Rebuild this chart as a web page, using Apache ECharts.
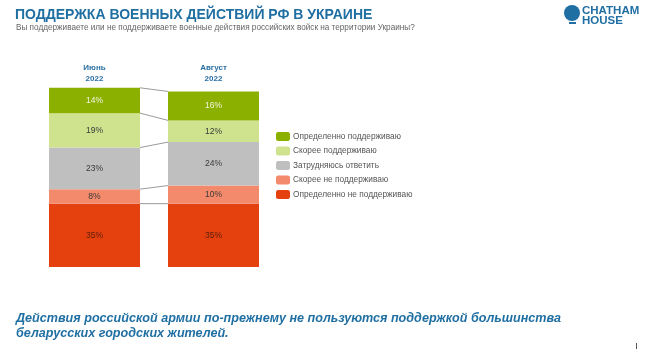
<!DOCTYPE html>
<html>
<head>
<meta charset="utf-8">
<script src="https://cdn.jsdelivr.net/npm/echarts@6/dist/echarts.min.js"></script>
<style>
html,body{margin:0;padding:0;background:#fff;}
#chart{width:662px;height:351px;}
</style>
</head>
<body>
<div id="chart"></div>
<script>
var periods = ['Июнь\n2022', 'Август\n2022'];
// снизу вверх
var seriesNames = ['Определенно не поддерживаю', 'Скорее не поддерживаю', 'Затрудняюсь ответить', 'Скорее поддерживаю', 'Определенно поддерживаю'];
var defNo = [35, 35];
var ratherNo = [8, 10];
var hard = [23, 24];
var ratherYes = [19, 12];
var defYes = [14, 16];
var colors = ['#e5410f', '#f38a6b', '#bfbfbf', '#cfe28e', '#8cb000'];
var labelColors = ['#5a1e0a', '#3a3a3a', '#3a3a3a', '#3a3a3a', '#f2f5df'];

var allValues = [defNo, ratherNo, hard, ratherYes, defYes];
var barW = 91;

var chart = echarts.init(document.getElementById('chart'));

var series = allValues.map(function (vals, i) {
    return {
        name: seriesNames[i],
        type: 'bar',
        stack: 'total',
        barWidth: barW,
        data: vals,
        itemStyle: {color: colors[i]},
        label: {
            show: true,
            formatter: '{c}%',
            color: labelColors[i],
            fontSize: 8.5,
            fontFamily: 'Arial, Liberation Sans, sans-serif'
        }
    };
});

// линии между столбцами на границах сегментов
var bounds = [];
var cumJ = 0, cumA = 0;
for (var k = 0; k < allValues.length; k++) {
    cumJ += allValues[k][0];
    cumA += allValues[k][1];
    bounds.push([cumJ, cumA]);
}

series.push({
    type: 'custom',
    name: 'connectors',
    silent: true,
    z: 1,
    data: bounds,
    renderItem: function (params, api) {
        var p1 = api.coord([0, api.value(0)]);
        var p2 = api.coord([1, api.value(1)]);
        return {
            type: 'line',
            shape: {x1: p1[0] + barW / 2, y1: p1[1], x2: p2[0] - barW / 2, y2: p2[1]},
            style: {stroke: '#808080', lineWidth: 0.8}
        };
    },
    encode: {x: -1, y: [0, 1]}
});

var option = {
    backgroundColor: '#fff',
    animation: false,
    title: [{
        text: 'ПОДДЕРЖКА ВОЕННЫХ ДЕЙСТВИЙ РФ В УКРАИНЕ',
        left: 10, top: 3,
        textStyle: {color: '#1f6fa3', fontSize: 14, fontWeight: 'bold', fontFamily: 'Arial, Liberation Sans, sans-serif'}
    }, {
        text: 'Вы поддерживаете или не поддерживаете военные действия российских войск на территории Украины?',
        left: 11, top: 19,
        textStyle: {color: '#666', fontSize: 8.2, fontWeight: 'normal', fontFamily: 'Arial, Liberation Sans, sans-serif'}
    }, {
        text: 'Действия российской армии по-прежнему не пользуются поддержкой большинства\nбеларусских городских жителей.',
        left: 11, top: 306,
        textStyle: {color: '#1f6fa3', fontSize: 12.6, fontStyle: 'italic', fontWeight: 'bold', lineHeight: 15, fontFamily: 'Arial, Liberation Sans, sans-serif'}
    }],
    legend: {
        orient: 'vertical',
        left: 271, top: 127,
        itemWidth: 14, itemHeight: 9, itemGap: 5.5,
        data: seriesNames.slice().reverse(),
        selectedMode: false,
        textStyle: {color: '#555', fontSize: 8.3, fontFamily: 'Arial, Liberation Sans, sans-serif', padding: [0, 0, 0, -2]}
    },
    grid: {left: 35, width: 238, top: 86, bottom: 84},
    xAxis: {
        type: 'category',
        position: 'top',
        data: periods,
        axisLine: {show: false},
        axisTick: {show: false},
        axisLabel: {color: '#2a6fa3', fontSize: 8, fontWeight: 'bold', lineHeight: 11, margin: 2, fontFamily: 'Arial, Liberation Sans, sans-serif'}
    },
    yAxis: {
        type: 'value',
        min: 0, max: 100,
        show: false
    },
    graphic: [{
        type: 'circle',
        shape: {cx: 572, cy: 13, r: 8},
        style: {fill: '#1f6fa3'}
    }, {
        type: 'rect',
        shape: {x: 569, y: 22, width: 7, height: 2},
        style: {fill: '#1f6fa3'}
    }, {
        type: 'text',
        left: 582, top: 5,
        style: {text: 'CHATHAM\nHOUSE', fill: '#1f6fa3', font: 'bold 11.5px Arial, Liberation Sans, sans-serif', lineHeight: 10}
    }, {
        type: 'rect',
        shape: {x: 636, y: 343, width: 1, height: 6},
        style: {fill: '#555'}
    }],
    series: series
};
chart.setOption(option);
</script>
</body>
</html>
